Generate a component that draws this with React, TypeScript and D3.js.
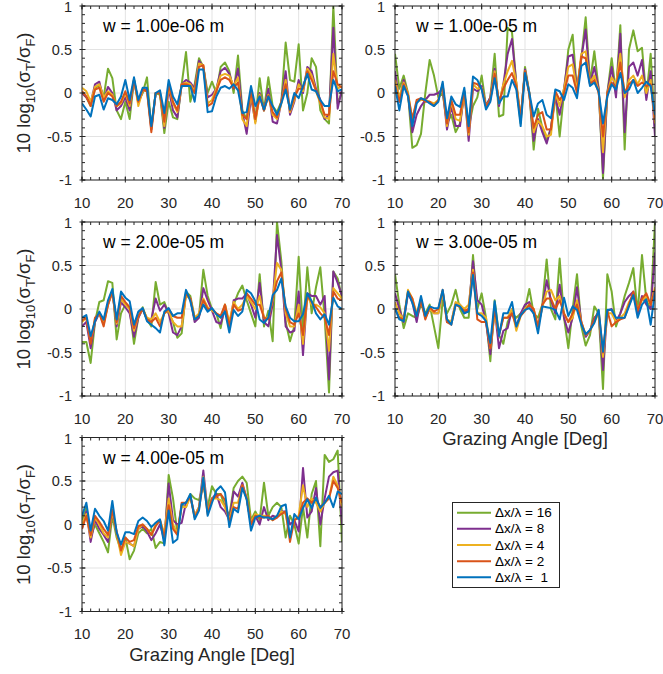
import React from 'react';
import * as d3 from 'd3';

// Grazing angle (deg)
const angles = [10, 11, 12, 13, 14, 15, 16, 17, 18, 19, 20, 21, 22, 23, 24, 25, 26, 27, 28, 29, 30, 31, 32, 33, 34, 35, 36, 37, 38, 39, 40, 41, 42, 43, 44, 45, 46, 47, 48, 49, 50, 51, 52, 53, 54, 55, 56, 57, 58, 59, 60, 61, 62, 63, 64, 65, 66, 67, 68, 69, 70];

const seriesNames = ['Δx/λ = 16', 'Δx/λ = 8', 'Δx/λ = 4', 'Δx/λ = 2', 'Δx/λ =  1'];
const seriesColors = ['#77AC30', '#7E2F8E', '#EDB120', '#D95319', '#0072BD'];
const panelTitles = ['w = 1.00e-06 m', 'w = 1.00e-05 m', 'w = 2.00e-05 m', 'w = 3.00e-05 m', 'w = 4.00e-05 m'];
const xTicks = [10, 20, 30, 40, 50, 60, 70];
const yTicks = [-1, -0.5, 0, 0.5, 1];
const yTickLabels = ['-1', '-0.5', '0', '0.5', '1'];

// ---- w = 1e-6 ----
const p1_16 = [0.0, -0.05, -0.15, 0.05, 0.1, -0.05, 0.28, 0.17, -0.2, -0.3,
  -0.1, -0.3, 0.15, -0.1, 0.0, 0.18, -0.4, 0.0, -0.02, -0.46,
  -0.1, -0.28, -0.3, 0.1, 0.47, -0.1, 0.1, 0.4, 0.3, 0.0,
  0.13, 0.0, 0.3, 0.35, 0.25, 0.0, 0.43, -0.2, -0.3, 0.0,
  -0.3, 0.17, -0.2, 0.18, -0.15, -0.22, -0.1, 0.58, 0.15, 0.13,
  0.56, -0.2, 0.0, 0.4, 0.3, -0.2, -0.3, -0.35, 1.0, -0.12,
  0.0];
const p1_8 = [0.0, -0.05, -0.12, 0.1, 0.13, -0.08, 0.07, 0.0, -0.2, -0.15,
  -0.05, -0.2, 0.15, -0.12, 0.02, 0.05, -0.42, 0.0, 0.0, -0.4,
  0.05, -0.2, -0.28, 0.1, 0.15, 0.12, 0.05, 0.37, 0.3, -0.05,
  -0.02, 0.05, 0.25, 0.29, 0.22, 0.05, 0.28, -0.22, -0.47, -0.05,
  -0.33, 0.0, -0.2, 0.05, -0.33, -0.35, -0.1, 0.25, -0.25, -0.1,
  0.15, 0.0, 0.3, 0.25, 0.05, -0.08, -0.3, -0.25, 0.75, -0.18,
  0.05];
const p1_4 = [0.06, 0.02, -0.1, 0.07, 0.1, -0.05, 0.02, -0.02, -0.15, -0.12,
  0.0, -0.15, 0.16, -0.15, 0.03, 0.02, -0.4, 0.0, 0.0, -0.38,
  0.08, -0.12, -0.22, 0.1, 0.12, 0.1, 0.02, 0.34, 0.32, -0.12,
  -0.08, 0.05, 0.2, 0.22, 0.2, 0.08, 0.18, -0.3, -0.38, 0.0,
  -0.35, -0.02, -0.2, -0.02, -0.25, -0.3, -0.12, 0.15, -0.22, -0.08,
  0.1, 0.02, 0.28, 0.2, 0.02, -0.12, -0.28, -0.3, 0.45, 0.05,
  0.08];
const p1_2 = [0.02, -0.04, -0.15, 0.04, 0.06, -0.1, 0.0, -0.04, -0.15, -0.1,
  0.02, -0.12, 0.15, -0.1, 0.04, 0.02, -0.45, 0.0, 0.0, -0.33,
  0.1, -0.1, -0.2, 0.1, 0.1, 0.08, 0.0, 0.3, 0.32, -0.15,
  -0.12, 0.02, 0.15, 0.18, 0.15, 0.06, 0.12, -0.25, -0.3, 0.03,
  -0.3, -0.04, -0.2, -0.03, -0.22, -0.28, -0.1, 0.1, -0.2, -0.05,
  0.05, 0.05, 0.25, 0.15, 0.03, -0.1, -0.25, -0.25, 0.25, 0.1,
  0.06];
const p1_1 = [-0.12, -0.19, -0.27, -0.04, -0.02, -0.19, -0.06, -0.08, -0.13, -0.04,
  0.15, -0.08, 0.18, -0.08, 0.06, 0.06, -0.38, 0.0, 0.03, -0.23,
  0.15, -0.04, -0.13, 0.08, 0.08, 0.08, -0.1, 0.27, 0.27, -0.22,
  -0.21, -0.04, 0.06, 0.08, 0.05, 0.1, 0.03, -0.23, -0.22, 0.08,
  -0.15, -0.04, -0.19, -0.04, -0.15, -0.25, -0.12, 0.04, -0.19, 0.0,
  -0.06, 0.08, 0.22, 0.04, 0.02, -0.08, -0.15, -0.15, 0.15, 0.02,
  0.04];

// ---- w = 1e-5 ----
const p2_16 = [0.45, 0.05, 0.2, 0.0, -0.63, -0.6, -0.47, 0.0, 0.38, 0.2,
  -0.05, 0.0, -0.35, -0.25, -0.45, -0.35, 0.0, -0.4, -0.15, -0.05,
  0.2, -0.15, -0.05, 0.45, -0.27, -0.25, 0.75, 0.7, 0.1, -0.35,
  0.3, 0.0, -0.65, -0.18, -0.4, -0.55, -0.4, 0.0, -0.5, 0.0,
  0.5, 0.67, 0.02, 0.4, 0.87, 0.12, 0.48, 0.05, -0.98, 0.0,
  0.4, 0.0, 0.78, -0.65, 0.5, 0.72, 0.48, 0.52, -0.05, 0.45,
  -0.4];
const p2_8 = [0.25, -0.1, 0.15, -0.02, -0.45, -0.25, -0.15, -0.08, -0.02, -0.02,
  0.0, 0.05, -0.42, -0.15, -0.38, -0.38, 0.02, -0.55, 0.05, 0.02,
  0.08, -0.15, -0.05, 0.28, -0.15, 0.1, 0.45, 0.62, 0.1, -0.3,
  0.27, 0.0, -0.55, -0.3, -0.45, -0.58, -0.4, -0.05, -0.25, 0.05,
  0.42, 0.44, 0.05, 0.4, 0.73, 0.1, 0.3, 0.05, -0.92, 0.0,
  0.3, -0.05, 0.68, -0.45, 0.3, 0.35, 0.2, 0.38, -0.08, 0.25,
  -0.5];
const p2_4 = [0.15, -0.05, 0.12, 0.0, -0.3, -0.1, -0.08, -0.08, -0.1, -0.12,
  -0.08, 0.1, -0.38, -0.1, -0.3, -0.32, 0.0, -0.48, 0.1, 0.05,
  0.06, -0.15, -0.08, 0.25, -0.12, 0.1, 0.25, 0.37, 0.12, -0.28,
  0.25, 0.0, -0.45, -0.32, -0.38, -0.5, -0.48, 0.0, -0.15, 0.05,
  0.3, 0.33, 0.03, 0.45, 0.48, 0.12, 0.2, 0.02, -0.68, 0.0,
  0.18, 0.1, 0.45, -0.05, 0.15, 0.2, 0.1, 0.2, 0.0, 0.15,
  -0.35];
const p2_2 = [0.1, -0.1, 0.1, -0.02, -0.3, -0.08, -0.06, -0.1, -0.1, -0.15,
  -0.08, 0.1, -0.35, -0.08, -0.25, -0.25, 0.02, -0.45, 0.12, 0.1,
  0.05, -0.15, -0.08, 0.22, -0.1, 0.05, 0.15, 0.23, 0.08, -0.3,
  0.25, -0.02, -0.4, -0.25, -0.22, -0.42, -0.42, 0.02, -0.08, 0.0,
  0.2, 0.2, 0.0, 0.42, 0.4, 0.1, 0.15, 0.0, -0.5, 0.0,
  0.12, 0.05, 0.35, 0.0, 0.1, 0.15, 0.08, 0.12, 0.08, 0.1,
  -0.3];
const p2_1 = [0.08, -0.2, 0.08, -0.04, -0.38, -0.12, -0.06, -0.08, -0.12, -0.15,
  -0.1, 0.13, -0.29, -0.04, -0.13, -0.16, 0.06, -0.38, 0.19, 0.15,
  0.04, -0.19, -0.1, 0.17, -0.12, -0.04, -0.04, 0.15, 0.04, -0.38,
  0.23, 0.0, -0.27, -0.12, -0.08, -0.25, -0.29, 0.04, 0.02, -0.08,
  0.1, 0.06, -0.06, 0.31, 0.35, 0.08, 0.12, 0.02, -0.35, -0.04,
  0.1, 0.04, 0.23, 0.0, 0.04, 0.15, 0.0, 0.06, 0.13, 0.08,
  -0.25];

// ---- w = 2e-5 ----
const p3_16 = [-0.38, -0.38, -0.62, -0.15, 0.08, 0.1, 0.32, 0.3, -0.35, -0.05,
  0.05, 0.0, -0.4, -0.1, 0.02, -0.12, -0.2, 0.31, 0.05, 0.08,
  -0.05, -0.15, -0.33, -0.28, 0.2, 0.15, -0.1, -0.08, 0.45, 0.15,
  0.0, -0.05, -0.22, 0.05, -0.2, 0.05, 0.18, 0.27, 0.1, -0.05,
  -0.2, 0.4, -0.2, -0.02, -0.37, 1.0, 0.55, -0.15, -0.37, -0.2,
  0.6, -0.25, 0.48, -0.05, 0.25, 0.48, -0.1, -0.96, 0.43, 0.35,
  0.13];
const p3_8 = [-0.2, -0.15, -0.45, -0.15, -0.05, -0.15, 0.05, 0.2, -0.2, 0.08,
  0.02, -0.05, -0.32, -0.1, 0.0, -0.12, -0.12, 0.12, -0.02, 0.05,
  -0.05, -0.27, -0.3, -0.2, 0.18, 0.12, -0.15, -0.1, 0.24, 0.1,
  -0.02, -0.15, -0.17, 0.0, -0.2, 0.1, 0.12, 0.12, 0.18, 0.05,
  -0.1, 0.3, -0.15, -0.2, 0.05, 0.85, 0.45, -0.2, -0.27, -0.25,
  0.2, -0.53, 0.18, 0.15, 0.15, 0.05, 0.15, -0.81, 0.43, 0.3,
  0.15];
const p3_4 = [-0.15, -0.1, -0.38, -0.12, -0.05, -0.18, 0.05, 0.2, -0.17, 0.12,
  0.05, 0.0, -0.25, -0.08, 0.0, -0.1, -0.12, -0.05, -0.15, -0.05,
  -0.02, -0.15, -0.2, -0.2, 0.15, 0.12, -0.1, -0.05, 0.12, 0.02,
  -0.02, -0.05, -0.1, 0.05, -0.15, 0.08, 0.0, 0.05, 0.15, 0.08,
  0.0, 0.15, -0.1, -0.1, 0.1, 0.53, 0.45, -0.05, -0.2, -0.2,
  0.05, -0.4, 0.15, 0.05, 0.05, 0.02, -0.05, -0.48, 0.24, 0.18,
  0.12];
const p3_2 = [-0.13, -0.1, -0.4, -0.1, -0.05, -0.2, 0.05, 0.2, -0.15, 0.15,
  0.08, 0.02, -0.22, -0.08, 0.0, -0.12, -0.15, -0.1, -0.2, -0.05,
  0.0, -0.08, -0.1, -0.1, 0.18, 0.12, -0.12, -0.08, 0.1, 0.0,
  0.0, -0.05, -0.08, 0.05, -0.2, 0.05, -0.02, 0.0, 0.18, 0.12,
  0.05, 0.05, -0.1, -0.12, 0.12, 0.32, 0.42, 0.0, -0.15, -0.18,
  -0.05, -0.3, 0.15, 0.08, 0.02, -0.05, -0.1, -0.3, 0.2, 0.12,
  0.1];
const p3_1 = [-0.1, -0.07, -0.31, -0.14, -0.03, -0.12, 0.1, 0.23, -0.12, 0.2,
  0.13, 0.09, -0.18, -0.03, 0.01, -0.14, -0.18, -0.22, -0.27, -0.03,
  0.01, -0.08, -0.05, -0.05, 0.22, 0.09, -0.12, -0.08, 0.05, -0.03,
  0.01, -0.06, -0.1, -0.03, -0.27, -0.01, -0.08, -0.03, 0.22, 0.18,
  0.09, -0.12, -0.16, -0.1, 0.16, 0.22, 0.35, 0.03, -0.1, -0.14,
  -0.14, -0.06, 0.18, 0.09, -0.05, -0.12, -0.06, -0.18, 0.13, 0.03,
  0.0];

// ---- w = 3e-5 ----
const p4_16 = [0.4, 0.05, -0.22, -0.05, -0.08, -0.1, 0.05, -0.05, 0.05, -0.2,
  -0.45, 0.1, -0.05, 0.05, 0.22, 0.0, -0.1, -0.1, 0.62, 0.0,
  0.18, -0.1, -0.6, 0.1, -0.3, -0.4, -0.15, -0.05, -0.1, -0.05,
  0.0, 0.23, -0.05, -0.1, 0.05, 0.57, 0.0, -0.12, 0.58, -0.1,
  -0.45, 0.0, 0.4, -0.2, -0.42, -0.3, 0.03, -0.05, -0.92, 0.4,
  0.2, -0.2, -0.05, 0.15, 0.3, 0.47, -0.05, 0.62, 0.1, 0.0,
  1.0];
const p4_8 = [0.18, 0.0, -0.15, 0.18, 0.08, -0.15, 0.12, -0.1, 0.0, -0.05,
  -0.05, 0.2, -0.15, -0.15, 0.07, 0.05, -0.05, 0.0, 0.55, 0.1,
  0.05, -0.15, -0.52, 0.0, -0.45, -0.25, -0.22, 0.0, -0.2, -0.05,
  0.05, 0.08, -0.05, -0.2, 0.02, 0.33, 0.1, -0.05, 0.28, -0.1,
  -0.27, -0.1, 0.25, -0.15, -0.32, -0.25, -0.1, -0.05, -0.7, -0.02,
  0.0, -0.15, -0.05, 0.08, 0.15, 0.2, -0.05, 0.15, 0.05, 0.0,
  0.65];
const p4_4 = [0.08, -0.05, -0.12, 0.22, 0.12, -0.05, 0.1, -0.1, 0.0, -0.05,
  -0.05, 0.2, -0.12, -0.15, 0.08, 0.05, 0.0, 0.05, 0.45, -0.05,
  -0.05, -0.1, -0.45, -0.05, -0.3, -0.1, -0.1, 0.0, -0.25, -0.08,
  0.0, 0.05, 0.0, -0.2, 0.02, 0.2, 0.22, 0.1, 0.15, -0.05,
  -0.15, -0.1, 0.1, -0.15, -0.3, -0.25, -0.15, -0.05, -0.55, -0.05,
  -0.05, -0.15, -0.1, -0.05, 0.08, 0.15, 0.0, 0.1, 0.15, 0.05,
  0.25];
const p4_2 = [0.0, -0.1, -0.12, 0.2, 0.12, -0.08, 0.1, -0.12, 0.02, -0.03,
  0.0, 0.22, -0.15, -0.18, 0.05, 0.02, -0.02, 0.0, 0.42, -0.12,
  -0.15, -0.15, -0.45, 0.0, -0.3, -0.1, -0.1, -0.05, -0.2, -0.08,
  -0.02, 0.05, 0.0, -0.2, 0.05, 0.12, 0.12, 0.0, 0.1, -0.05,
  -0.15, -0.05, 0.05, -0.15, -0.3, -0.25, -0.12, -0.02, -0.5, -0.02,
  -0.2, -0.15, -0.12, -0.1, 0.05, 0.2, -0.02, 0.12, 0.18, 0.05,
  0.22];
const p4_1 = [0.01, -0.12, -0.14, 0.2, 0.07, -0.08, 0.15, -0.08, 0.03, 0.01,
  0.01, 0.22, -0.12, -0.18, 0.05, 0.03, -0.05, -0.03, 0.39, -0.05,
  -0.08, -0.14, -0.39, 0.09, -0.31, -0.05, -0.05, 0.08, -0.2, -0.07,
  -0.01, 0.01, -0.05, -0.28, 0.03, 0.02, 0.01, -0.01, -0.12, 0.13,
  -0.08, 0.03, -0.01, -0.18, -0.29, -0.24, -0.16, -0.01, -0.49, -0.01,
  -0.01, -0.1, -0.1, -0.1, 0.03, 0.16, -0.1, 0.05, 0.11, -0.18,
  0.2];

// ---- w = 4e-5 ----
const p5_16 = [0.05, 0.2, -0.15, 0.0, -0.1, -0.2, -0.32, 0.1, -0.15, -0.3,
  -0.15, -0.4, -0.3, -0.1, -0.05, -0.1, -0.05, -0.27, -0.2, -0.22,
  0.57, 0.3, -0.1, 0.22, 0.2, 0.35, 0.3, 0.28, 0.45, 0.2,
  0.44, 0.35, 0.35, 0.2, 0.1, 0.42, 0.5, 0.55, 0.48, 0.05,
  0.15, 0.05, 0.48, 0.1, 0.2, 0.25, 0.2, -0.15, 0.1, 0.0,
  -0.22, 0.2, -0.15, 0.35, 0.5, -0.25, 0.8, 0.72, 0.75, 0.85,
  -0.2];
const p5_8 = [-0.05, 0.15, -0.2, 0.05, -0.05, -0.12, -0.2, 0.15, -0.1, -0.3,
  -0.2, -0.22, -0.25, -0.05, -0.02, -0.08, -0.18, -0.1, 0.0, -0.18,
  0.47, 0.05, 0.0, 0.02, 0.25, 0.33, 0.1, 0.2, 0.62, 0.15,
  0.3, 0.35, 0.2, 0.15, 0.05, 0.38, 0.32, 0.48, 0.3, 0.0,
  0.1, 0.0, 0.2, 0.05, 0.1, 0.08, 0.15, 0.15, 0.0, 0.05,
  -0.08, 0.65, 0.08, 0.15, 0.42, 0.0, 0.3, 0.55, 0.6, 0.62,
  0.0];
const p5_4 = [0.0, 0.12, -0.15, 0.08, 0.0, -0.1, -0.15, 0.15, -0.1, -0.35,
  -0.2, -0.22, -0.25, -0.05, 0.0, -0.05, -0.12, 0.0, 0.05, -0.1,
  0.3, 0.0, -0.1, 0.2, 0.2, 0.32, 0.1, 0.2, 0.55, 0.15,
  0.3, 0.3, 0.28, 0.2, 0.05, 0.25, 0.25, 0.45, 0.3, 0.02,
  0.12, 0.1, 0.1, 0.08, 0.05, 0.1, 0.15, 0.12, -0.15, 0.05,
  0.1, 0.45, 0.2, 0.3, 0.25, 0.15, 0.25, 0.3, 0.55, 0.45,
  0.2];
const p5_2 = [-0.05, 0.1, -0.12, 0.1, 0.03, -0.05, -0.12, 0.17, -0.08, -0.3,
  -0.15, -0.2, -0.18, -0.02, 0.0, -0.05, -0.12, -0.02, 0.05, -0.15,
  0.22, -0.05, -0.12, 0.25, 0.25, 0.32, 0.08, 0.18, 0.5, 0.12,
  0.3, 0.32, 0.35, 0.28, 0.02, 0.2, 0.18, 0.45, 0.3, 0.0,
  0.1, 0.08, 0.08, 0.1, 0.05, 0.08, 0.12, 0.15, -0.2, 0.05,
  0.08, 0.25, 0.3, 0.25, 0.3, 0.2, 0.25, 0.3, 0.5, 0.42,
  0.25];
const p5_1 = [0.1, 0.25, -0.07, 0.18, 0.1, 0.04, -0.07, 0.27, -0.09, -0.23,
  -0.09, -0.09, -0.11, 0.04, 0.08, 0.04, -0.03, 0.02, 0.06, -0.24,
  0.16, -0.21, -0.17, 0.23, 0.25, 0.35, 0.06, 0.16, 0.54, 0.1,
  0.25, 0.39, 0.44, 0.37, -0.03, 0.18, 0.14, 0.42, 0.29, -0.07,
  0.08, 0.1, 0.08, 0.08, 0.06, 0.1, 0.21, 0.23, -0.15, 0.12,
  0.06, 0.19, 0.29, 0.19, 0.31, 0.19, 0.25, 0.33, 0.2, 0.38,
  0.35];

const panelData = [
  [p1_16, p1_8, p1_4, p1_2, p1_1],
  [p2_16, p2_8, p2_4, p2_2, p2_1],
  [p3_16, p3_8, p3_4, p3_2, p3_1],
  [p4_16, p4_8, p4_4, p4_2, p4_1],
  [p5_16, p5_8, p5_4, p5_2, p5_1],
];

const FONT = '"Liberation Sans", Arial, Helvetica, sans-serif';
const AX = '#262626';
const PW = 260;
const PH = 174;
const boxes = [
  { left: 82, top: 6, ylab: true, xlab: false },
  { left: 395, top: 6, ylab: false, xlab: false },
  { left: 82, top: 222, ylab: true, xlab: false },
  { left: 395, top: 222, ylab: false, xlab: true },
  { left: 82, top: 437.5, ylab: true, xlab: true },
];

function Panel({ idx }: { idx: number }) {
  const b = boxes[idx];
  const x = d3.scaleLinear().domain([10, 70]).range([b.left, b.left + PW]);
  const y = d3.scaleLinear().domain([-1, 1]).range([b.top + PH, b.top]);
  const line = d3.line<number>().x((_, i) => x(angles[i])).y((d) => y(d));
  const clipId = `clip${idx}`;
  const minorX = d3.range(10, 71, 2);
  const minorY = d3.range(-10, 11).map((v) => v / 10);
  const x0 = b.left, x1 = b.left + PW, y0 = b.top, y1 = b.top + PH;
  const cy = (y0 + y1) / 2;
  return (
    <g>
      <defs>
        <clipPath id={clipId}>
          <rect x={x0} y={y0} width={PW} height={PH} />
        </clipPath>
      </defs>
      <rect x={x0} y={y0} width={PW} height={PH} fill="#fff" />
      {xTicks.map((t) => (
        <line key={'gx' + t} x1={x(t)} x2={x(t)} y1={y0} y2={y1} stroke="#e3e3e3" strokeWidth={1} />
      ))}
      {yTicks.map((t) => (
        <line key={'gy' + t} x1={x0} x2={x1} y1={y(t)} y2={y(t)} stroke="#e3e3e3" strokeWidth={1} />
      ))}
      <g clipPath={`url(#${clipId})`}>
        {panelData[idx].map((s, k) => (
          <path key={k} d={line(s) || ''} fill="none" stroke={seriesColors[k]} strokeWidth={2} strokeLinejoin="round" />
        ))}
      </g>
      <rect x={x0} y={y0} width={PW} height={PH} fill="none" stroke={AX} strokeWidth={1} />
      {minorX.map((t) => (
        <g key={'mx' + t}>
          <line x1={x(t)} x2={x(t)} y1={y1} y2={y1 - 3} stroke={AX} />
          <line x1={x(t)} x2={x(t)} y1={y0} y2={y0 + 3} stroke={AX} />
        </g>
      ))}
      {minorY.map((t) => (
        <g key={'my' + t}>
          <line x1={x0} x2={x0 + 3} y1={y(t)} y2={y(t)} stroke={AX} />
          <line x1={x1} x2={x1 - 3} y1={y(t)} y2={y(t)} stroke={AX} />
        </g>
      ))}
      {xTicks.map((t) => (
        <g key={'Mx' + t}>
          <line x1={x(t)} x2={x(t)} y1={y1 + 2.5} y2={y1 - 3.5} stroke={AX} />
          <line x1={x(t)} x2={x(t)} y1={y0 - 2.5} y2={y0 + 3.5} stroke={AX} />
          <text x={x(t)} y={y1 + 22} textAnchor="middle" dominantBaseline="central" fontSize={15} fill={AX}>{t}</text>
        </g>
      ))}
      {yTicks.map((t, i) => (
        <g key={'My' + t}>
          <line x1={x0 - 2.5} x2={x0 + 3.5} y1={y(t)} y2={y(t)} stroke={AX} />
          <line x1={x1 + 2.5} x2={x1 - 3.5} y1={y(t)} y2={y(t)} stroke={AX} />
          <text x={x0 - 10} y={y(t) + (t === 1 ? 1.2 : 0)} textAnchor="end" dominantBaseline="central" fontSize={14.5} fill={AX}>{yTickLabels[i]}</text>
        </g>
      ))}
      <text x={x0 + 21} y={y0 + 26} fontSize={17.5} fill="#000">{panelTitles[idx]}</text>
      {b.ylab && (
        <text transform={`translate(${x0 - 52},${cy}) rotate(-90)`} textAnchor="middle" fontSize={18.5} fill={AX}>
          10 log<tspan dy={5} fontSize={13}>10</tspan>
          <tspan dy={-5}>(σ</tspan>
          <tspan dy={5} fontSize={13}>T</tspan>
          <tspan dy={-5}>/σ</tspan>
          <tspan dy={5} fontSize={13}>F</tspan>
          <tspan dy={-5}>)</tspan>
        </text>
      )}
      {b.xlab && (
        <text x={(x0 + x1) / 2} y={y1 + 49} textAnchor="middle" fontSize={18.5} fill={AX}>Grazing Angle [Deg]</text>
      )}
    </g>
  );
}

function Legend() {
  const lx = 452.5, ly = 502.5, lw = 107, lh = 85;
  return (
    <g>
      <rect x={lx} y={ly} width={lw} height={lh} fill="#fff" stroke={AX} strokeWidth={1} />
      {seriesNames.map((n, i) => {
        const yy = 512.7 + i * 16.15;
        return (
          <g key={n}>
            <line x1={457} x2={491} y1={yy} y2={yy} stroke={seriesColors[i]} strokeWidth={2} />
            <text x={495} y={yy} dominantBaseline="central" fontSize={13.5} fill="#000" style={{ whiteSpace: 'pre' }}>{n}</text>
          </g>
        );
      })}
    </g>
  );
}

export default function App() {
  return (
    <svg width={663} height={674} style={{ position: 'absolute', left: 0, top: 0, fontFamily: FONT }}>
      <rect width={663} height={674} fill="#fff" />
      {boxes.map((_, i) => <Panel key={i} idx={i} />)}
      <Legend />
    </svg>
  );
}
